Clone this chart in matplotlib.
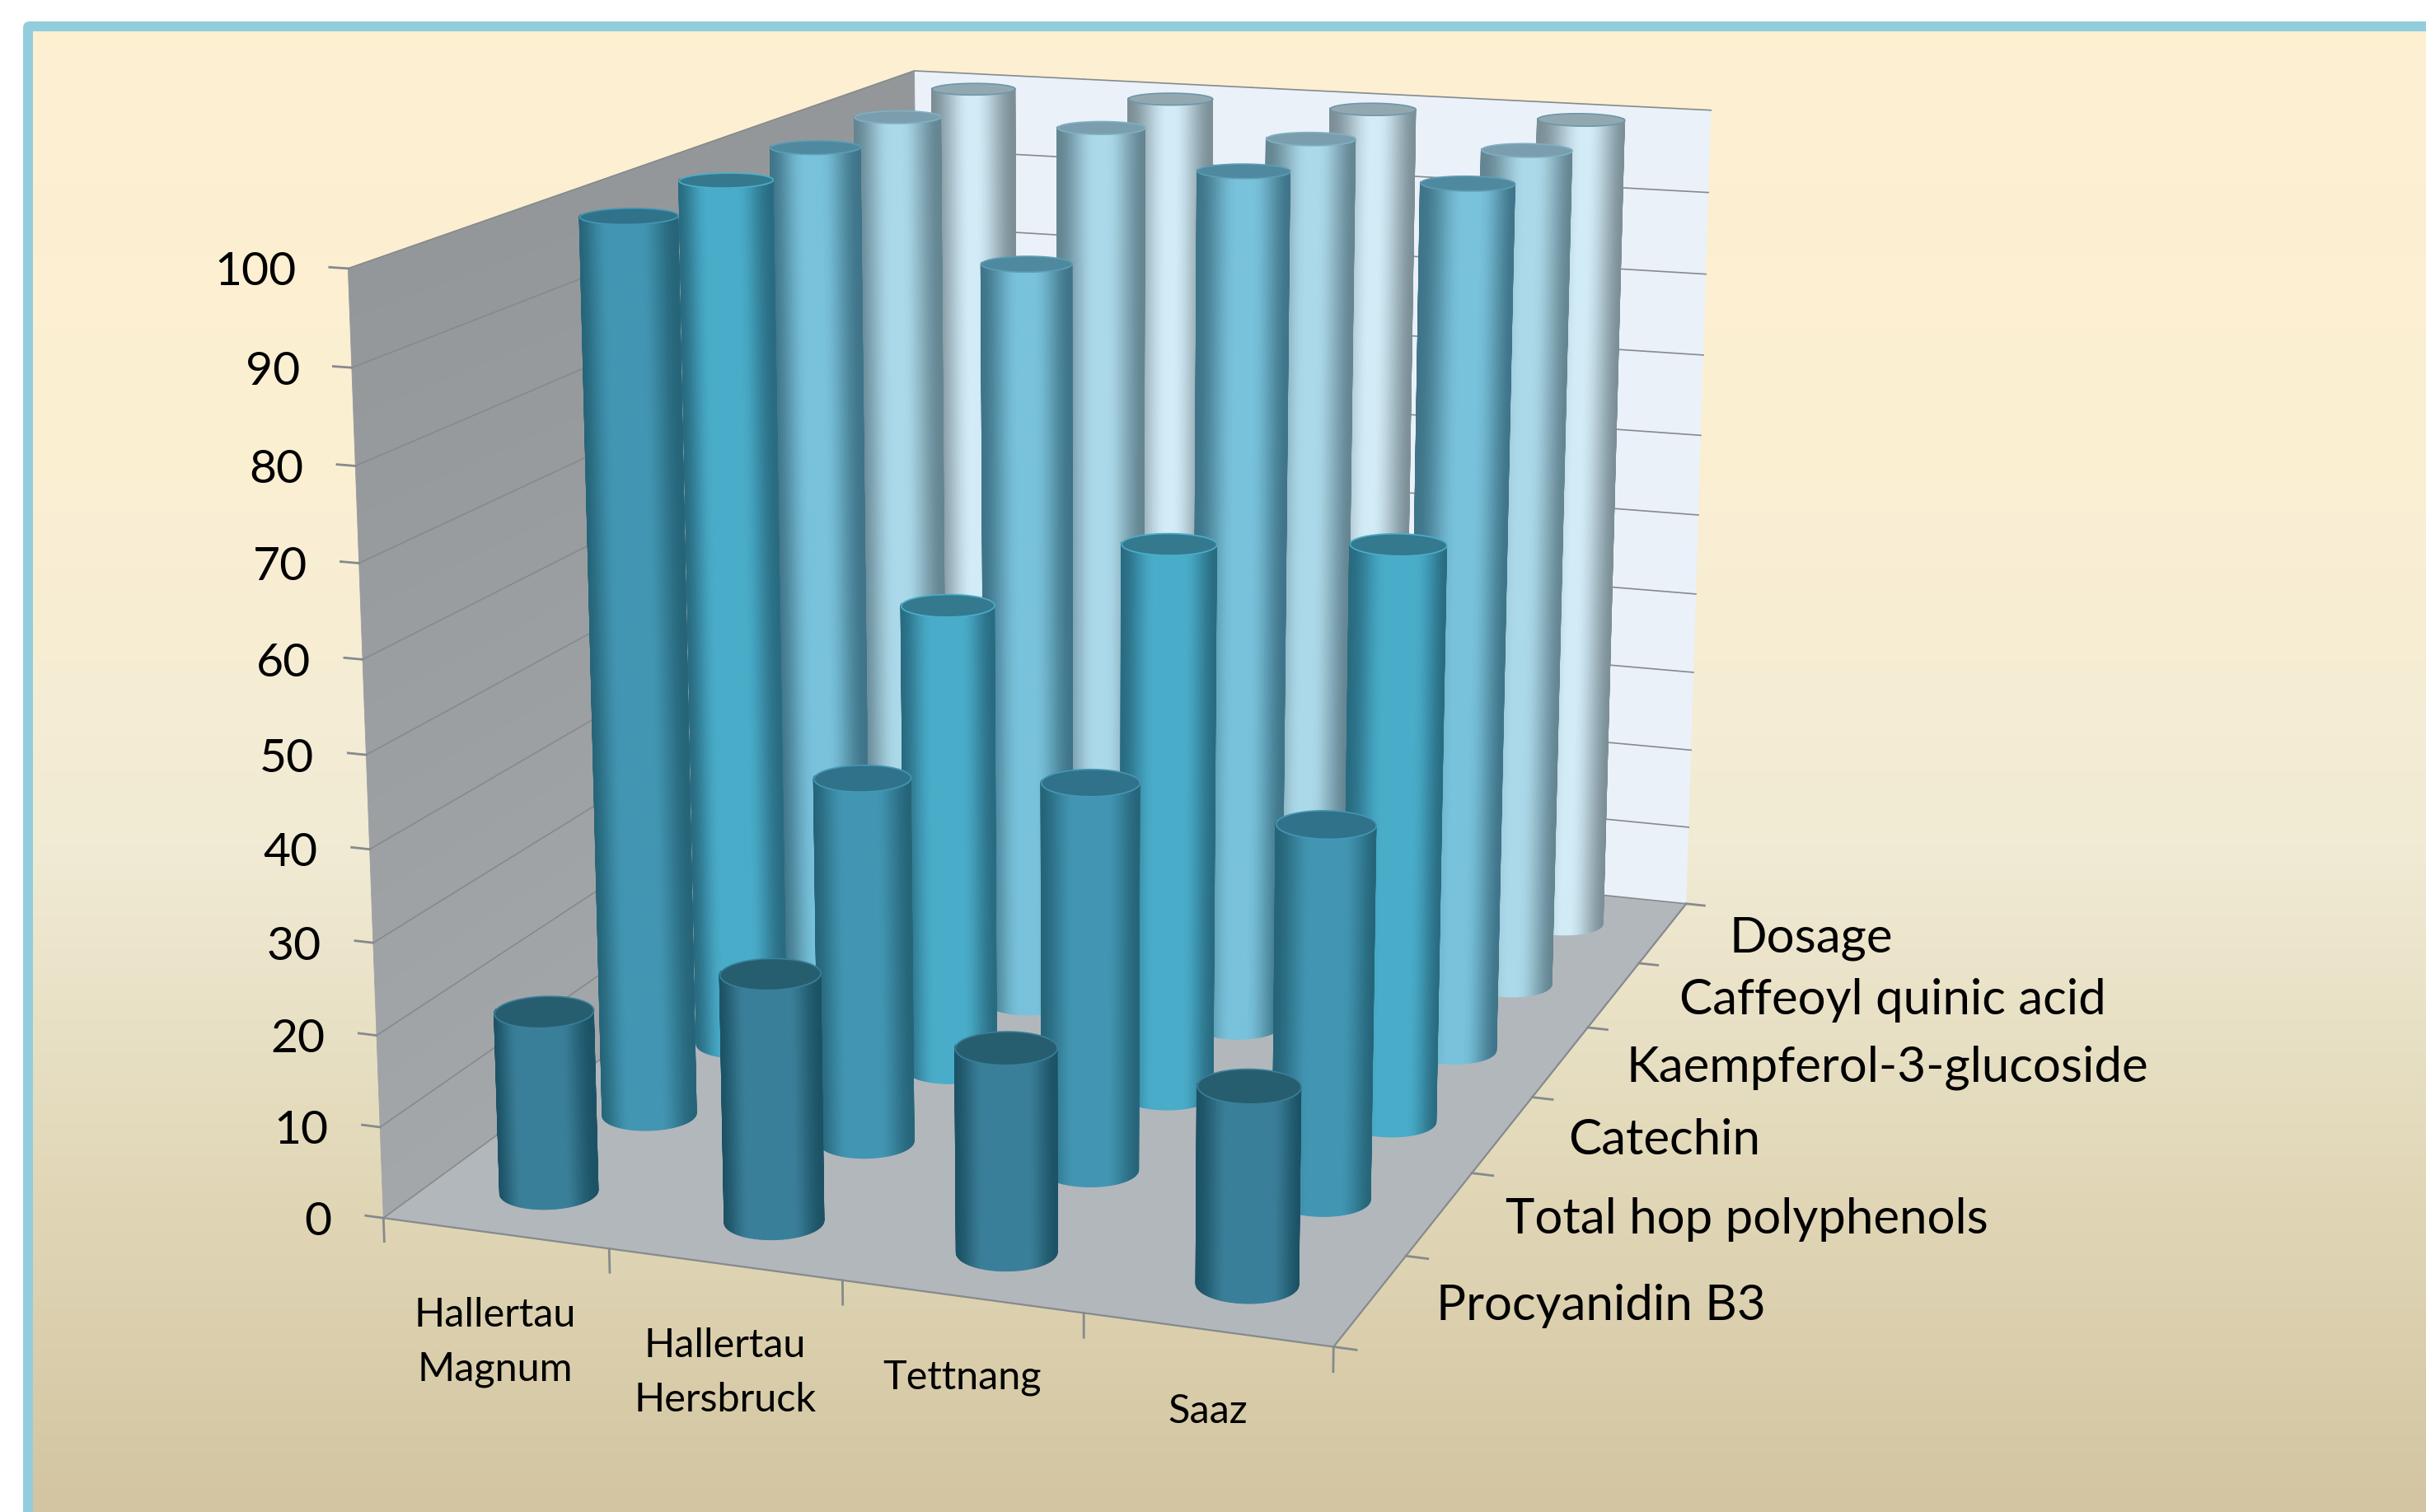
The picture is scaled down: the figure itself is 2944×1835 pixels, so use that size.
import numpy as np
import matplotlib
matplotlib.use('Agg')
import matplotlib.pyplot as plt
from matplotlib.colors import LinearSegmentedColormap, to_rgb
from matplotlib.patches import FancyBboxPatch
from mpl_toolkits.mplot3d import proj3d
from mpl_toolkits.mplot3d.art3d import Poly3DCollection

plt.rcParams['font.family'] = ['Lato', 'DejaVu Sans']

# chart values
varieties = ['Hallertau\nMagnum', 'Hallertau\nHersbruck', 'Tettnang', 'Saaz']
compounds = ['Procyanidin B3', 'Total hop polyphenols', 'Catechin',
             'Kaempferol-3-glucoside', 'Caffeoyl quinic acid', 'Dosage']
procyanidin = [20, 27, 22, 21]
total_hop = [100, 41, 43, 41]
catechin = [100, 54, 63, 65]
kaempferol = [100, 88, 100, 100]
caffeoyl = [100, 100, 100, 100]
dosage = [100, 100, 100, 100]
z_ticks = [0, 10, 20, 30, 40, 50, 60, 70, 80, 90, 100]

W, H = 2944, 1835
fig = plt.figure(figsize=(W/200, H/200), dpi=200)

# background: white margin, blue frame, cream to tan gradient
bg = fig.add_axes([0, 0, 1, 1])
bg.axis('off')
bg.add_patch(FancyBboxPatch((34, 32), 3100, 2000, boxstyle='round,pad=6,rounding_size=8',
                            fc='#92CDDD', ec='none'))
grad = LinearSegmentedColormap.from_list('bg', [(0, '#FEEFD1'), (0.3, '#FBEFD3'), (0.55, '#F1EBD5'),
                                                (0.75, '#E3DABB'), (1, '#D3C5A1')])
bg.imshow(np.linspace(0, 1, 400).reshape(-1, 1), cmap=grad, aspect='auto', extent=[40, W, H, 39], zorder=2)
bg.set_xlim(0, W)
bg.set_ylim(H, 0)

# camera fitted to the frame corners of the reference
ax = fig.add_axes([0.06832, -0.02747, 0.74663, 1.19787], projection='3d', computed_zorder=False)
ax.set_xlim(0, 4)
ax.set_ylim(0, 6)
ax.set_zlim(0, 100)
azim = -70.465
box_x, box_y = 1.0309, 1.5226
ax.view_init(14.189, azim, -0.023)
ax.set_proj_type('persp', focal_length=0.5038)
ax.set_box_aspect((box_x, box_y, 1))
ax.set_axis_off()
ax.patch.set_alpha(0)
ax.apply_aspect()


def to_px(x, y, z):
    # pixel of a data point, measured from the top left
    tx, ty, _ = proj3d.proj_transform(x, y, z, ax.get_proj())
    px, py = ax.transData.transform((float(tx), float(ty)))
    return px, H - py


def put_text(x, y, z, dx, dy, label, **kw):
    px, py = to_px(x, y, z)
    fig.text((px + dx)/W, 1 - (py + dy)/H, label, color='black', **kw)


# walls and floor
ax.add_collection3d(Poly3DCollection([[(0, 0, 0), (4, 0, 0), (4, 6, 0), (0, 6, 0)]],
                                     facecolors='#B2B7BC', edgecolors='none', zorder=1))
ax.add_collection3d(Poly3DCollection([[(0, 6, 0), (4, 6, 0), (4, 6, 100), (0, 6, 100)]],
                                     facecolors='#EAF1F9', edgecolors='none', zorder=1))
wall_z = np.linspace(0, 100, 21)
wall_y = np.array([0, 6])
wall_c = np.array(to_rgb('#A3A7A9')) + np.linspace(0, 1, 20)[:, None]*(np.array(to_rgb('#93979A')) - np.array(to_rgb('#A3A7A9')))
wall_fc = np.concatenate([wall_c, np.ones((20, 1))], axis=1)[:, None, :]
ax.plot_surface(np.zeros((21, 2)), np.tile(wall_y, (21, 1)), np.tile(wall_z[:, None], (1, 2)),
                facecolors=wall_fc, rstride=1, cstride=1, shade=False, linewidth=0.3, zorder=1)

line_c = '#858A8D'
for z in z_ticks:
    ax.plot([0, 0, 4], [0, 6, 6], [z, z, z], color=line_c, lw=0.6, zorder=2)
    ax.plot([0, -0.08], [0, 0], [z, z], color=line_c, lw=1, zorder=2)
    put_text(0, 0, z, -63, 5, str(z), ha='right', va='center', fontsize=20.5)
ax.plot([0, 4, 4], [0, 0, 6], [0, 0, 0], color=line_c, lw=0.8, zorder=2)
for i in range(5):
    ax.plot([i, i], [0, 0], [0, -2.6], color=line_c, lw=1, zorder=2)
for j in range(7):
    ax.plot([4, 4.09], [j, j], [0, 0], color=line_c, lw=1, zorder=2)

for i, label in enumerate(varieties):
    put_text(i + 0.5, 0, 0, 0, 77, label, ha='center', va='top', fontsize=17.5, linespacing=1.6)
for j, label in enumerate(compounds):
    put_text(4, j + 0.5, 0, 80, 7, label, ha='left', va='center', fontsize=21.6)

# cylinders
series = [procyanidin, total_hop, catechin, kaempferol, caffeoyl, dosage]
centre_cols = ['#3A7F99', '#4296B3', '#49ACC9', '#79C2DB', '#ACD9E9', '#D2ECF7']
edge_cols = ['#1C5265', '#266579', '#296C82', '#3F7489', '#648592', '#7C8F97']
cap_cols = ['#265E70', '#30728A', '#34798E', '#4E899F', '#7A9EAD', '#92A8B1']
rim_cols = ['#3A8099', '#4497B5', '#4BAECB', '#5D9DB4', '#7FB0C2', '#6E97A8']
ramps = [0.6, 0.7, 0.7, 0.85, 0.9, 0.95]

rad = 0.2
ry = rad*(box_x/4)/(box_y/6)
azr = np.radians(azim)
order = sorted([(i, j) for i in range(4) for j in range(6)],
               key=lambda t: (t[0]+.5)*box_x/4*np.cos(azr) + (t[1]+.5)*box_y/6*np.sin(azr))
theta = np.linspace(azr - np.radians(100), azr + np.radians(100), 61)
theta_mid = 0.5*(theta[:-1] + theta[1:])
for k, (i, j) in enumerate(order):
    val = series[j][i]
    x0, y0 = i + .5, j + .5
    xs = np.array([x0 + rad*np.cos(theta)]*2)
    ys = np.array([y0 + ry*np.sin(theta)]*2)
    zs = np.array([np.zeros_like(theta), np.full_like(theta, val)])
    u = np.sin(theta_mid - azr)
    t = np.clip((1 - np.abs(u))/ramps[j], 0, 1)
    t = t*t*(3 - 2*t)
    c0, c1 = np.array(to_rgb(edge_cols[j])), np.array(to_rgb(centre_cols[j]))
    fc = c0[None, :]*(1 - t[:, None]) + c1[None, :]*t[:, None]
    fc = np.concatenate([fc, np.ones((len(t), 1))], axis=1)[None, :, :]
    ax.plot_surface(xs, ys, zs, facecolors=fc, rstride=1, cstride=1, shade=False,
                    linewidth=0.4, antialiased=True, zorder=10 + 2*k)
    a = np.linspace(0, 2*np.pi, 80)
    cap = list(zip(x0 + rad*np.cos(a), y0 + ry*np.sin(a), np.full_like(a, val)))
    ax.add_collection3d(Poly3DCollection([cap], facecolors=cap_cols[j], edgecolors=rim_cols[j],
                                         linewidths=0.6, zorder=11 + 2*k))

fig.savefig('out.png', dpi=200)
